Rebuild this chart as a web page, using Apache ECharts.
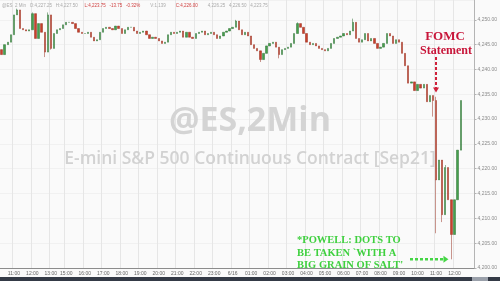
<!DOCTYPE html>
<html><head><meta charset="utf-8">
<script src="https://cdn.jsdelivr.net/npm/echarts@6/dist/echarts.min.js"></script>
<style>html,body{margin:0;padding:0;background:#fafafa}#c{width:500px;height:281px}</style>
</head><body><div id="c"></div>
<script>
// 10-minute closes (ES Sep21), 6/15 10:20 -> 6/16 12:10
const closes = [
4243.0,4245.0,4245.5,4247.0,4251.0,4252.0,4248.25,4248.0,4247.75,4248.0,
4251.25,4246.25,4249.25,4247.5,4243.5,4251.0,4244.25,4247.25,4248.0,4248.25,
4249.0,4249.5,4249.5,4249.25,4248.25,4247.5,4247.25,4247.25,4247.5,4246.5,
4245.75,4246.0,4247.5,4248.25,4248.5,4248.25,4248.0,4248.75,4248.25,4247.25,
4248.0,4248.5,4248.5,4247.75,4247.25,4247.5,4247.75,4247.0,4246.25,4246.5,
4246.25,4245.75,4245.25,4245.5,4247.0,4247.5,4247.25,4247.5,4247.75,4246.5,
4247.5,4246.5,4246.25,4247.25,4247.5,4247.75,4247.0,4247.25,4247.5,4247.0,
4246.25,4246.75,4247.5,4247.75,4248.25,4248.5,4249.75,4248.0,4247.0,4247.5,
4246.75,4245.0,4244.25,4243.75,4242.0,4243.25,4244.75,4245.25,4245.5,4244.5,
4243.0,4244.0,4244.25,4244.5,4245.25,4247.25,4249.25,4248.5,4247.25,4245.5,
4245.0,4245.25,4244.75,4244.25,4244.0,4243.75,4244.25,4245.25,4246.25,4246.5,
4246.75,4247.25,4247.0,4247.75,4249.5,4246.25,4245.5,4246.0,4247.25,4245.75,
4246.25,4245.25,4244.25,4244.5,4245.25,4247.25,4246.75,4245.25,4246.0,4245.5,
4243.25,4240.75,4237.25,4237.5,4235.75,4237.0,4236.25,4237.0,4233.5,4234.75,
4233.75,4217.75,4221.75,4210.75,4220.25,4213.75,4206.75,4213.75,4223.75,4233.75
];
const firstOpen = 4244.0;
// notable wick extremes [barIndex, price]
const wickLows = [[14,4242.5],[16,4244.0],[84,4241.5],[90,4242.25],[140,4230.5],[141,4207.0],[143,4209.25],[146,4201.75]];
const wickHighs = [[5,4252.25],[10,4251.5],[15,4251.5],[76,4250.0],[96,4249.5],[114,4250.25],[141,4234.5],[144,4220.75]];
const tickLabels = ['11:00','12:00','13:00','15:00','16:00','17:00','18:00','19:00','20:00','21:00','22:00','23:00','6/16',
  '01:00','02:00','03:00','04:00','05:00','06:00','07:00','08:00','09:00','10:00','11:00','12:00'];
const priceMin = 4200, priceMax = 4254, priceStep = 5;
const fomcIndex = 141, powellLowIndex = 146;

// build 10-minute session slots (halt 13:15-13:30, break 14:00-15:00)
function pad(n){return (n<10?'0':'')+n;}
const cats = [];
let day = 15, m = 10*60+20;
while (!(day === 16 && m > 13*60)) {
  const closed = (m >= 13*60+20 && m < 13*60+30) || (m >= 14*60 && m < 15*60);
  if (!closed) cats.push(day + '-' + pad(Math.floor(m/60)) + ':' + pad(m%60));
  m += 10; if (m >= 1440) { m -= 1440; day = 16; }
}
const labelByName = {};
let k = 0;
cats.forEach(c => { if (c.endsWith(':00') && k < tickLabels.length) labelByName[c] = tickLabels[k++]; });
const isTick = (i) => labelByName[cats[i]] !== undefined;

const candles = closes.map((c, i) => {
  const o = i === 0 ? firstOpen : closes[i-1];
  let lo = Math.min(o, c), hi = Math.max(o, c);
  wickLows.forEach(w => { if (w[0] === i) lo = Math.min(lo, w[1]); });
  wickHighs.forEach(w => { if (w[0] === i) hi = Math.max(hi, w[1]); });
  return [o, c, lo, hi];
});

const chart = echarts.init(document.getElementById('c'), null, {renderer: 'canvas'});
const serif = '"Liberation Serif", "DejaVu Serif", serif';
chart.setOption({
  backgroundColor: '#fafafa',
  animation: false,
  grid: {left: 0, right: 16, top: 0, bottom: 13},
  xAxis: {
    type: 'category', data: cats, boundaryGap: true,
    axisLine: {lineStyle: {color: '#8c8c8c', width: 1}},
    axisTick: {show: false},
    axisLabel: {interval: (i) => isTick(i), formatter: (v) => labelByName[v] || '',
      fontSize: 5, color: '#666', margin: 3, fontFamily: 'Arial'},
    splitLine: {show: true, interval: (i) => isTick(i), lineStyle: {color: '#e6e6e6', width: 1}}
  },
  yAxis: {
    type: 'value', position: 'right', min: priceMin, max: priceMax, interval: priceStep,
    axisLine: {show: true, lineStyle: {color: '#b4b4b4'}},
    axisTick: {show: true, length: 2, lineStyle: {color: '#b4b4b4'}},
    axisLabel: {fontSize: 5, color: '#8a8a8a', margin: 3, fontFamily: 'Arial', showMaxLabel: false,
      formatter: v => (v % priceStep !== 0) ? '' : v.toLocaleString('en-US', {minimumFractionDigits: 2, maximumFractionDigits: 2})},
    splitLine: {show: true, lineStyle: {color: '#f1f1f1'}}
  },
  series: [{
    type: 'candlestick', data: candles, barWidth: 1.8,
    itemStyle: {color: '#45a04c', color0: '#c93f2b', borderColor: '#2c6f33', borderColor0: '#962e1f', borderWidth: 0.5}
  }]
});

// annotation arrows anchored to the data
const fomcPt = chart.convertToPixel({xAxisIndex: 0, yAxisIndex: 0}, [fomcIndex, closes[fomcIndex-1]]);
const lowPt = chart.convertToPixel({xAxisIndex: 0, yAxisIndex: 0}, [powellLowIndex, wickLows.find(w => w[0] === powellLowIndex)[1]]);
const fx = fomcPt[0], fy = fomcPt[1] - 8;
const gx = lowPt[0] - 3, gy = lowPt[1];
chart.setOption({graphic: [
  {id: 'wm1', type: 'text', z: 0, left: 'center', top: 104, style: {text: '@ES,2Min', font: 'bold 34px "Open Sans", sans-serif', fill: '#d4d4d4'}},
  {id: 'wm2', type: 'text', z: 0, left: 'center', top: 150, style: {text: 'E-mini S&P 500 Continuous Contract [Sep21]', font: '600 17.5px "Open Sans", sans-serif', fill: '#d2d2d2'}},
  {id: 'hdr', type: 'text', z: 50, x: 2, y: 0, style: {
    text: '{g|@ES  2 Min   O:4,227.25   H:4,227.50}  {r|L:4,223.75   -13.75   -0.32%}   {g|V:1,139}   {r|C:4,226.00}   {g|4,226.25   4,226.50   4,223.75}',
    rich: {g: {fontSize: 4.5, fill: '#aaa', fontFamily: 'Arial'}, r: {fontSize: 4.5, fill: '#d04040', fontFamily: 'Arial'}}}},
  {id: 'f1', type: 'text', z: 50, x: 445, y: 37, style: {text: 'FOMC', font: 'bold 13px ' + serif, fill: '#c8163a', align: 'center', verticalAlign: 'middle'}},
  {id: 'f2', type: 'text', z: 50, x: 446, y: 51, style: {text: 'Statement', font: 'bold 12px ' + serif, fill: '#c8163a', align: 'center', verticalAlign: 'middle'}},
  {id: 'p1', type: 'text', z: 50, x: 297, y: 240, style: {text: '*POWELL: DOTS TO', font: 'bold 10.5px ' + serif, fill: '#3fd03f', verticalAlign: 'middle'}},
  {id: 'p2', type: 'text', z: 50, x: 297, y: 253, style: {text: 'BE TAKEN `WITH A', font: 'bold 10.5px ' + serif, fill: '#3fd03f', verticalAlign: 'middle'}},
  {id: 'p3', type: 'text', z: 50, x: 297, y: 265, style: {text: "BIG GRAIN OF SALT'", font: 'bold 10.5px ' + serif, fill: '#3fd03f', verticalAlign: 'middle'}},
  {id: 'bar1', type: 'rect', z: 50, shape: {x: 0, y: 277, width: 500, height: 4}, style: {fill: '#343a46'}},
  {id: 'bar2', type: 'rect', z: 51, shape: {x: 472, y: 277, width: 16, height: 4}, style: {fill: '#9aa0aa'}},
  {id: 'ra', type: 'line', z: 60, shape: {x1: fx, y1: 57, x2: fx, y2: fy - 4}, style: {stroke: '#d0203a', lineWidth: 2, lineDash: [3, 2]}},
  {id: 'rh', type: 'polygon', z: 60, shape: {points: [[fx - 3, fy - 5], [fx + 3, fy - 5], [fx, fy]]}, style: {fill: '#d0203a'}},
  {id: 'ga', type: 'line', z: 60, shape: {x1: 410, y1: gy, x2: gx - 4, y2: gy}, style: {stroke: '#45d645', lineWidth: 2.5, lineDash: [3, 2]}},
  {id: 'gh', type: 'polygon', z: 60, shape: {points: [[gx - 5, gy - 3.5], [gx - 5, gy + 3.5], [gx, gy]]}, style: {fill: '#45d645'}}
]});
</script>
</body></html>
